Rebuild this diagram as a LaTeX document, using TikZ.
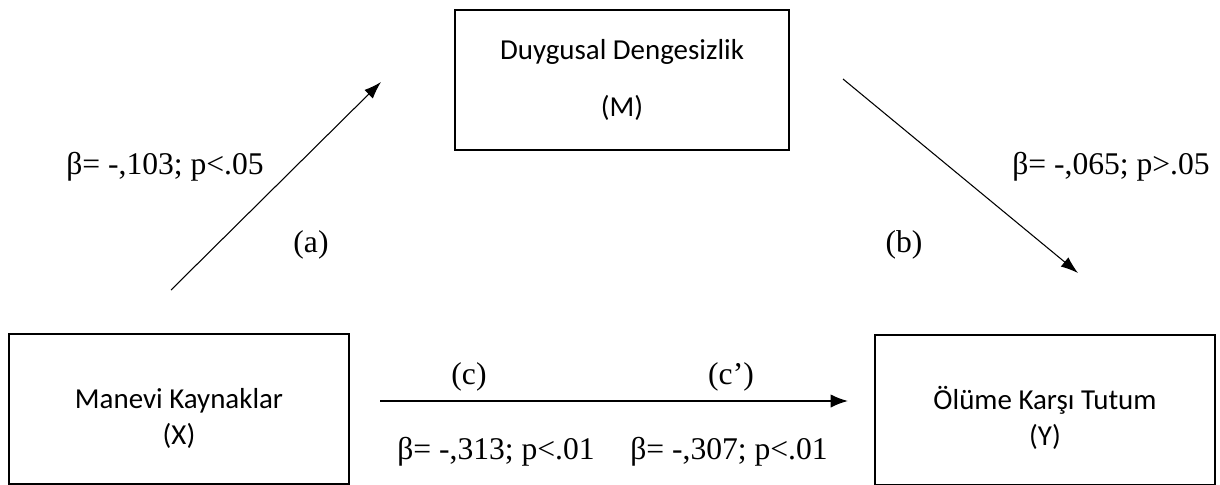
\documentclass[tikz,border=0pt]{standalone}
\usepackage{fontspec}
\setmainfont{Liberation Serif}
\newfontfamily\boxfont{Carlito}
\usetikzlibrary{arrows.meta, positioning}
\tikzset{
    >=Latex,
    x=0.75pt,
    y=-0.75pt,
    var_box/.style={
        rectangle,
        draw=black,
        line width=1.6pt,
        minimum width=255pt,
        minimum height=113pt,
        inner sep=0pt,
        align=center,
        font=\boxfont\fontsize{21.7}{27}\selectfont
    },
    path_label/.style={
        inner sep=0pt,
        font=\fontsize{23.7}{28}\selectfont
    },
    path_arrow/.style={
        -{Latex[length=13pt, width=9pt]},
        line width=0.8pt
    },
    direct_arrow/.style={
        -{Latex[length=13pt, width=10pt]},
        line width=1.3pt
    }
}
\newcommand{\lowstrut}{\rule{0pt}{30pt}}

\begin{document}
\begin{tikzpicture}
\useasboundingbox (0,0) rectangle (1220,485);

% --- Variables ---
\node[var_box] (X) at (179,409) {\lowstrut Manevi Kaynaklar \\ (X)};
\node[var_box] (Y) at (1045,410) {\lowstrut Ölüme Karşı Tutum \\ (Y)};
\node[var_box, minimum width=251pt, minimum height=105pt] (M) at (622,80) {Duygusal Dengesizlik \\[16pt] (M)};

% --- Arrow ends ---
\coordinate (aStart) at (171,290);
\coordinate (aEnd) at (381,82);
\coordinate (bStart) at (843,79);
\coordinate (bEnd) at (1078,273);
\coordinate (cStart) at (380,401);
\coordinate (cEnd) at (848,401);

% --- Paths ---
\draw[path_arrow] (aStart) -- (aEnd);
\draw[path_arrow] (bStart) -- (bEnd);
\draw[direct_arrow] (cStart) -- (cEnd);

% --- Labels ---
\node[path_label] (labA) at (165,167) {β= -,103; p<.05};
\node[path_label] (tagA) at (311,245) {(a)};
\node[path_label] (labB) at (1111,167) {β= -,065; p>.05};
\node[path_label] (tagB) at (904,245) {(b)};
\node[path_label] (tagC) at (469,377) {(c)};
\node[path_label] (tagCp) at (731,377) {(c’)};
\node[path_label] (labC) at (496,452) {β= -,313; p<.01};
\node[path_label] (labCp) at (729,452) {β= -,307; p<.01};

\end{tikzpicture}
\end{document}
